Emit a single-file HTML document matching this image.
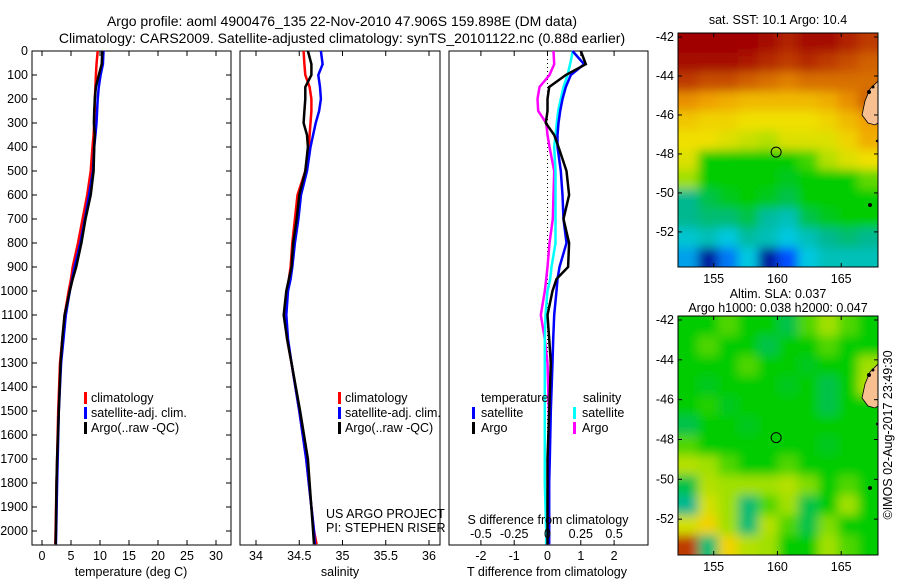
<!DOCTYPE html>
<html><head><meta charset="utf-8"><style>
html,body{margin:0;padding:0;background:#fff;}
svg{display:block;font-family:"Liberation Sans",sans-serif;}
text{font-size:12.5px;fill:#000;}
text.title{font-size:14px;}
</style></head><body>
<svg id="c" width="900" height="580" viewBox="0 0 900 580" xmlns="http://www.w3.org/2000/svg">
<defs>
<filter id="blur" x="-5%" y="-5%" width="110%" height="110%"><feGaussianBlur stdDeviation="5"/></filter>
<clipPath id="clipTop"><rect x="678" y="33" width="200" height="234"/></clipPath>
<clipPath id="clipBot"><rect x="678" y="316" width="200" height="239"/></clipPath>
</defs>
<text class="title" x="342" y="26" text-anchor="middle">Argo profile: aoml 4900476_135 22-Nov-2010 47.906S 159.898E (DM data)</text>
<text class="title" x="342" y="43" text-anchor="middle">Climatology: CARS2009. Satellite-adjusted climatology: synTS_20101122.nc (0.88d earlier)</text>
<g id="g"></g>
</svg>
<script>
// ---- data ----
const depths = [0,55,100,150,200,250,300,350,400,500,600,700,800,900,950,1000,1100,1200,1300,1500,1700,1800,2000,2055];
const tempClim = [9.6,9.4,9.3,9.2,9.1,9.1,9.0,8.9,8.7,8.4,7.8,7.0,6.2,5.3,5.0,4.6,3.9,3.5,3.1,2.8,2.6,2.5,2.35,2.3];
const tempSat  = [10.6,10.5,10.1,9.8,9.6,9.5,9.4,9.2,9.0,8.8,8.1,7.4,6.6,5.6,5.2,4.8,4.1,3.7,3.3,2.9,2.7,2.6,2.45,2.4];
const tempArgo = [10.4,10.3,9.8,9.3,9.1,9.0,8.95,9.1,9.0,8.9,8.4,7.5,6.8,5.9,5.3,4.8,3.9,3.5,3.2,2.9,2.6,2.5,2.4,2.35];
const salClim = [34.55,34.56,34.57,34.62,34.64,34.64,34.63,34.62,34.61,34.57,34.48,34.45,34.42,34.40,34.38,34.36,34.34,34.36,34.41,34.50,34.58,34.61,34.67,34.70];
const salSat  = [34.75,34.77,34.72,34.74,34.75,34.73,34.69,34.66,34.63,34.59,34.52,34.49,34.45,34.42,34.40,34.37,34.35,34.37,34.41,34.50,34.58,34.61,34.67,34.68];
const salArgo = [34.60,34.64,34.64,34.57,34.57,34.56,34.55,34.59,34.60,34.57,34.50,34.47,34.43,34.41,34.38,34.35,34.32,34.36,34.41,34.51,34.60,34.62,34.66,34.67];
const dTsat  = [0.75,1.1,0.7,0.55,0.45,0.38,0.33,0.3,0.3,0.4,0.45,0.48,0.57,0.36,0.3,0.27,0.2,0.17,0.15,0.1,0.07,0.05,0.05,0.05];
const dTargo = [1.0,1.15,0.55,0.05,0.0,0.0,-0.05,0.2,0.33,0.57,0.65,0.48,0.65,0.62,0.27,0.15,0.0,0.05,0.1,0.05,0.0,0.0,0.0,0.0];
const dSsat  = [0.19,0.17,0.15,0.12,0.1,0.08,0.07,0.06,0.05,0.06,0.06,0.06,0.06,0.03,0.02,0.0,-0.015,-0.02,-0.02,-0.02,-0.02,-0.02,-0.01,-0.01];
const dSargo = [0.045,0.05,0.015,-0.06,-0.075,-0.07,-0.01,0.0,0.015,0.05,0.045,0.04,0.015,0.0,-0.01,-0.02,-0.05,-0.02,0.0,0.01,0.01,0.01,-0.01,-0.01];
const depthTicks = [0,100,200,300,400,500,600,700,800,900,1000,1100,1200,1300,1400,1500,1600,1700,1800,1900,2000];
const tempTicks = [0,5,10,15,20,25,30];
const salTicks = [34,34.5,35,35.5,36];
const salTickLabels = ["34","34.5","35","35.5","36"];
const dTTicks = [-2,-1,0,1,2];
const dSTicks = [-0.5,-0.25,0,0.25,0.5];
const dSTickLabels = ['-0.5','-0.25','0','0.25','0.5'];
const latTicks = [-42,-44,-46,-48,-50,-52];
const lonTicks = [155,160,165];
const sstGrid = [
[1,1,1,1,.98,.93,.98,.98,.93,.9],
[.98,.98,.98,.95,.92,.9,.92,.9,.88,.86],
[.9,.88,.88,.86,.84,.82,.84,.84,.84,.84],
[.8,.78,.76,.74,.74,.74,.74,.76,.8,.86],
[.72,.7,.7,.68,.68,.68,.68,.7,.74,.78],
[.68,.68,.66,.64,.62,.66,.66,.66,.7,.76],
[.66,.5,.5,.5,.5,.5,.54,.62,.66,.68],
[.6,.5,.5,.5,.5,.48,.5,.5,.5,.56],
[.4,.45,.48,.5,.48,.45,.5,.5,.5,.5],
[.4,.42,.42,.45,.38,.35,.45,.48,.5,.5],
[.32,.35,.3,.38,.35,.3,.35,.4,.42,.4],
[.25,.05,.2,.3,.05,.15,.3,.35,.35,.35]];
const slaGrid = [
[.5,.5,.55,.5,.5,.45,.55,.6,.55,.5],
[.5,.55,.5,.5,.45,.5,.5,.55,.5,.5],
[.5,.5,.5,.55,.5,.5,.48,.5,.5,.6],
[.5,.48,.5,.5,.5,.48,.5,.45,.5,.62],
[.5,.52,.48,.5,.5,.5,.5,.45,.5,.5],
[.45,.5,.5,.48,.5,.5,.5,.5,.5,.5],
[.55,.5,.5,.5,.5,.5,.5,.48,.5,.5],
[.62,.6,.55,.5,.5,.55,.5,.5,.5,.5],
[.45,.62,.6,.6,.6,.62,.58,.5,.55,.5],
[.4,.65,.6,.42,.55,.6,.45,.5,.6,.5],
[.65,.7,.6,.42,.62,.55,.45,.58,.5,.5],
[.9,.42,.7,.62,.6,.5,.5,.6,.55,.5]];
const floatLon = 159.898, floatLat = -47.906;

// ---- helpers ----
const NS="http://www.w3.org/2000/svg";
const G=document.getElementById('g');
function mk(tag,attrs,parent){const e=document.createElementNS(NS,tag);for(const k in attrs)e.setAttribute(k,attrs[k]);(parent||G).appendChild(e);return e;}
const PT=51, PB=545;
const yD = d => 51 + d*0.24;
const P1={x0:32,x1:231}, P2={x0:240,x1:440}, P3={x0:449,x1:648};
const xT = v => 42 + v*5.8;
const xS = v => 256 + (v-34)*86.5;
const xdT = v => 547.5 + v*33.3;
const xdS = v => 547.5 + v*133.2;

function frame(p,name){
  const r=mk('rect',{x:p.x0,y:PT,width:p.x1-p.x0,height:PB-PT,fill:'none',stroke:'#000','stroke-width':1});
  
  
}
function line(xs,sx,color,name,w){
  const pts=depths.map((d,i)=>sx(xs[i]).toFixed(1)+','+yD(d).toFixed(1)).join(' ');
  const l=mk('polyline',{points:pts,fill:'none',stroke:color,'stroke-width':w||2.5});
  
  
}
function xticks(ticks,labels,sx,p,name){
  ticks.forEach((t,i)=>{
    const x=sx(t);
    mk('line',{x1:x,x2:x,y1:PT,y2:PT+5,stroke:'#000'});
    mk('line',{x1:x,x2:x,y1:PB,y2:PB-5,stroke:'#000'});
    const tx=mk('text',{x:x,y:560,'text-anchor':'middle'});tx.textContent=labels[i];
    
    
  });
}
function txt(x,y,s,name,anchor){const t=mk('text',{x:x,y:y,'text-anchor':anchor||'start'});t.textContent=s;
  
  return t;}
function legBar(x,yc,color){const r=mk('rect',{x:x,y:yc-6,width:3,height:12,fill:color});
  
  }

// panel 1
frame(P1,'temperature-panel');
depthTicks.forEach(d=>{
  const y=yD(d);
  mk('line',{x1:P1.x0,x2:P1.x0+5,y1:y,y2:y,stroke:'#000'});
  mk('line',{x1:P1.x1,x2:P1.x1-5,y1:y,y2:y,stroke:'#000'});
  const t=mk('text',{x:28,y:y+4,'text-anchor':'end'});t.textContent=d;
  
  
});
xticks(tempTicks,tempTicks.map(String),xT,P1,'temperature');
line(tempClim,xT,'#f00','temp-climatology-line');
line(tempSat,xT,'#00f','temp-satellite-line');
line(tempArgo,xT,'#000','temp-argo-line');
txt(131,576,'temperature (deg C)','x-axis-title-temperature','middle');
legBar(84,398,'#f00');txt(91,402,'climatology','legend-climatology');
legBar(84,413,'#00f');txt(91,417,'satellite-adj. clim.','legend-satellite');
legBar(84,428,'#000');txt(91,432,'Argo(..raw -QC)','legend-argo');

// panel 2
frame(P2,'salinity-panel');
xticks(salTicks,salTickLabels,xS,P2,'salinity');
line(salClim,xS,'#f00','sal-climatology-line');
line(salSat,xS,'#00f','sal-satellite-line');
line(salArgo,xS,'#000','sal-argo-line');
txt(340,576,'salinity','x-axis-title-salinity','middle');
legBar(338,398,'#f00');txt(345,402,'climatology','legend-climatology');
legBar(338,413,'#00f');txt(345,417,'satellite-adj. clim.','legend-satellite');
legBar(338,428,'#000');txt(345,432,'Argo(..raw -QC)','legend-argo');
txt(326,518,'US ARGO PROJECT','project-label');
txt(326,532,'PI: STEPHEN RISER','pi-label');

// panel 3
frame(P3,'difference-panel');
xticks(dTTicks,dTTicks.map(String),xdT,P3,'t-diff');
mk('line',{x1:547.5,x2:547.5,y1:PT,y2:PB,stroke:'#000','stroke-dasharray':'1,3'});
line(dSargo,xdS,'#f0f','s-diff-argo-line');
line(dSsat,xdS,'#0ff','s-diff-satellite-line');
line(dTsat,xdT,'#00f','t-diff-satellite-line');
line(dTargo,xdT,'#000','t-diff-argo-line');
txt(547,576,'T difference from climatology','x-axis-title-t-diff','middle');
txt(548,524,'S difference from climatology','s-diff-axis-title','middle');
dSTicks.forEach((t,i)=>txt(xdS(t),538,dSTickLabels[i],'s-diff-tick-label','middle'));
txt(481,402,'temperature','legend-temperature-header');
txt(583,402,'salinity','legend-salinity-header');
legBar(472,413,'#00f');txt(481,417,'satellite','legend-t-satellite');
legBar(472,428,'#000');txt(481,432,'Argo','legend-t-argo');
legBar(573,413,'#0ff');txt(582,417,'satellite','legend-s-satellite');
legBar(573,428,'#f0f');txt(582,432,'Argo','legend-s-argo');

// maps
const stops=[[0,[0,0,110]],[.15,[0,80,255]],[.3,[0,200,224]],[.4,[0,184,144]],[.5,[0,204,0]],[.6,[160,224,0]],[.68,[240,224,0]],[.78,[240,160,0]],[.86,[208,96,0]],[.93,[176,32,0]],[1,[160,0,0]]];
function cmap(v){for(let i=1;i<stops.length;i++){if(v<=stops[i][0]){const a=stops[i-1],b=stops[i];const f=(v-a[0])/(b[0]-a[0]);return 'rgb('+a[1].map((c,k)=>Math.round(c+(b[1][k]-c)*f)).join(',')+')';}}return 'rgb(160,0,0)';}
function map(grid,x0,y0,x1,y1,name,clip){
  const g=mk('g',{'clip-path':'url(#'+clip+')'});
  
  
  const inner=mk('g',{filter:'url(#blur)'},g);
  const rows=grid.length, cols=grid[0].length, cw=(x1-x0)/cols, rh=(y1-y0)/rows;
  grid.forEach((row,r)=>row.forEach((v,c)=>{
    // extend edge cells outward so blur doesn't fade at borders
    const ex0 = c===0?x0-12:x0+c*cw, ey0 = r===0?y0-12:y0+r*rh;
    const ew = cw+0.6+(c===0?12:0)+(c===cols-1?12:0), eh = rh+0.6+(r===0?12:0)+(r===rows-1?12:0);
    const cell=mk('rect',{x:ex0,y:ey0,width:ew,height:eh,fill:cmap(v)},inner);
    
    
  }));
  const lx = lon => x0 + (lon-152.2)*12.75;
  const ly = lat => y0 + 4 + (-42-lat)*((y1-y0-4)/11.8);
  // land
  const land=mk('path',{d:`M${x1} ${y0+48} L${x1-8} ${y0+56} L${x1-13} ${y0+68} L${x1-16} ${y0+82} L${x1-10} ${y0+90} L${x1-3} ${y0+92} L${x1} ${y0+90} Z`,fill:'#f8c090',stroke:'#000','stroke-width':0.8},g);
  
  
  mk('circle',{cx:x1-9,cy:y0+59,r:2,fill:'#000'},g);
  mk('circle',{cx:x1-5,cy:y0+54,r:1.5,fill:'#000'},g);
  mk('circle',{cx:x1-8,cy:y0+172,r:2,fill:'#000'},g);
  mk('circle',{cx:x1-1,cy:y0+108,r:1.2,fill:'#000'},g);
  mk('rect',{x:x0,y:y0,width:x1-x0,height:y1-y0,fill:'none',stroke:'#000'});
  latTicks.forEach(l=>{const y=ly(l);mk('line',{x1:x0,x2:x0+4,y1:y,y2:y,stroke:'#000'});mk('line',{x1:x1,x2:x1-4,y1:y,y2:y,stroke:'#000'});
    txt(674,y+4,String(l),'lat-tick-label','end');});
  lonTicks.forEach(l=>{const x=lx(l);mk('line',{x1:x,x2:x,y1:y0,y2:y0+4,stroke:'#000'});mk('line',{x1:x,x2:x,y1:y1,y2:y1-4,stroke:'#000'});
    txt(x,y1+16,String(l),'lon-tick-label','middle');});
  const c=mk('circle',{cx:lx(floatLon),cy:ly(floatLat),r:5,fill:'none',stroke:'#000','stroke-width':1});
  
  
}
map(sstGrid,678,33,878,267,'sst-map','clipTop');
map(slaGrid,678,316,878,555,'sla-map','clipBot');
txt(778,24,'sat. SST: 10.1  Argo: 10.4','sst-map-title','middle');
txt(778,298,'Altim. SLA: 0.037','sla-map-title','middle');
txt(778,312,'Argo h1000: 0.038 h2000: 0.047','sla-map-subtitle','middle');
const cr=txt(0,0,'©IMOS 02-Aug-2017 23:49:30','copyright-label','middle');
cr.setAttribute('transform','translate(892,435) rotate(-90)');
</script>
</body></html>
